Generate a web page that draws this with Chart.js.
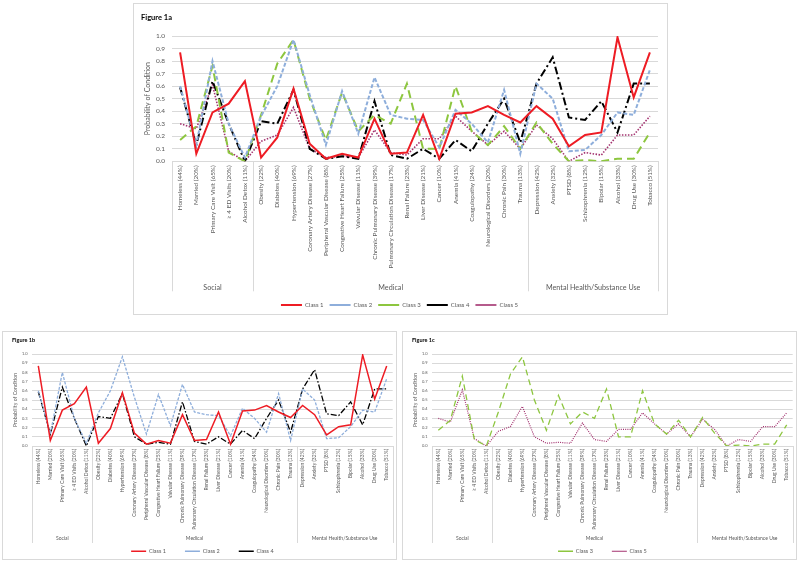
<!DOCTYPE html>
<html>
<head>
<meta charset="utf-8">
<script src="https://cdn.jsdelivr.net/npm/chart.js@4.4.0/dist/chart.umd.min.js"></script>
<style>
    html, body { margin: 0; padding: 0; background: #fff; overflow: hidden; }
    body { position: relative; width: 800px; height: 563px; }
    .frame { position: absolute; border: 1px solid #d9d9d9; box-sizing: border-box; }
    canvas { position: absolute; }
</style>
</head>
<body>
<div class="frame" style="left:133px; top:3px; width:535px; height:312px;"></div>
<div class="frame" style="left:2px; top:331px; width:395px; height:229px;"></div>
<div class="frame" style="left:402px; top:331px; width:395px; height:229px;"></div>
<canvas id="fig1a" width="535" height="315" style="left:133px; top:3px;"></canvas>
<canvas id="fig1b" width="395" height="233" style="left:2px; top:331px;"></canvas>
<canvas id="fig1c" width="395" height="233" style="left:402px; top:331px;"></canvas>
<script>
// Categories and the three axis groups
const categories = [
    'Homeless (44%)', 'Married (20%)', 'Primary Care Visit (65%)', '\u2265 4 ED Visits (20%)', 'Alcohol Detox (11%)',
    'Obesity (22%)', 'Diabetes (40%)', 'Hypertension (69%)', 'Coronary Artery Disease (27%)',
    'Peripheral Vascular Disease (8%)', 'Congestive Heart Failure (25%)', 'Valvular Disease (11%)',
    'Chronic Pulmonary Disease (39%)', 'Pulmonary Circulation Disease (17%)', 'Renal Failure (23%)',
    'Liver Disease (21%)', 'Cancer (10%)', 'Anemia (41%)', 'Coagulopathy (24%)', 'Neurological Disorders (20%)',
    'Chronic Pain (30%)', 'Trauma (13%)',
    'Depression (42%)', 'Anxiety (32%)', 'PTSD (8%)', 'Schizophrenia (12%)', 'Bipolar (15%)',
    'Alcohol (33%)', 'Drug Use (30%)', 'Tobacco (51%)',
];
const groupNames = ['Social', 'Medical', 'Mental Health/Substance Use'];
const groupSizes = [5, 17, 8];

// Probability of condition per latent class
const class1 = [0.87, 0.06, 0.39, 0.46, 0.64, 0.03, 0.19, 0.58, 0.14, 0.02, 0.06, 0.03, 0.34, 0.06, 0.07,
    0.37, 0.02, 0.38, 0.39, 0.44, 0.37, 0.31, 0.44, 0.34, 0.12, 0.21, 0.23, 0.99, 0.51, 0.87];
const class2 = [0.60, 0.13, 0.80, 0.30, 0.03, 0.36, 0.60, 0.97, 0.53, 0.13, 0.56, 0.22, 0.67, 0.37, 0.34,
    0.33, 0.11, 0.41, 0.30, 0.15, 0.57, 0.06, 0.62, 0.50, 0.08, 0.09, 0.21, 0.39, 0.37, 0.73];
const class3 = [0.17, 0.28, 0.76, 0.07, 0.00, 0.37, 0.78, 0.97, 0.50, 0.17, 0.55, 0.24, 0.37, 0.30, 0.62,
    0.10, 0.10, 0.60, 0.24, 0.13, 0.28, 0.10, 0.31, 0.14, 0.00, 0.01, 0.00, 0.02, 0.02, 0.23];
const class4 = [0.59, 0.13, 0.64, 0.30, 0.00, 0.32, 0.30, 0.57, 0.10, 0.02, 0.04, 0.02, 0.48, 0.05, 0.02,
    0.10, 0.02, 0.17, 0.08, 0.30, 0.50, 0.15, 0.62, 0.83, 0.35, 0.33, 0.48, 0.23, 0.62, 0.62];
const class5 = [0.30, 0.26, 0.61, 0.08, 0.00, 0.16, 0.21, 0.43, 0.10, 0.03, 0.04, 0.03, 0.25, 0.07, 0.05,
    0.18, 0.18, 0.36, 0.24, 0.13, 0.24, 0.10, 0.29, 0.18, 0.00, 0.07, 0.05, 0.21, 0.21, 0.36];

const classLabels = ['Class 1', 'Class 2', 'Class 3', 'Class 4', 'Class 5'];
const classValues = [class1, class2, class3, class4, class5];
const yTicks = [0, 0.1, 0.2, 0.3, 0.4, 0.5, 0.6, 0.7, 0.8, 0.9, 1.0];

// Line looks (Excel style)
const lineColors = ['#ee1c24', '#8eaedb', '#8dc63f', '#000000', '#a3326f'];
const FONT = "Lato, 'Open Sans', sans-serif";
const TEXT = '#595959';
const GRID = '#d9d9d9';

Chart.defaults.font.family = FONT;

// Draws the second-level category axis: group separators + group names
const groupAxisPlugin = {
    id: 'groupAxis',
    afterDraw(chart, args, opts) {
        const x = chart.scales.x;
        const ctx = chart.ctx;
        const half = (x.getPixelForValue(1) - x.getPixelForValue(0)) / 2;
        const top = chart.chartArea.bottom;
        ctx.save();
        ctx.strokeStyle = GRID;
        ctx.lineWidth = 1;
        ctx.fillStyle = TEXT;
        ctx.font = `${opts.fontSize}px ${FONT}`;
        ctx.textAlign = 'center';
        ctx.textBaseline = 'middle';
        let start = 0;
        groupSizes.forEach((n, g) => {
            const left = x.getPixelForValue(start) - half;
            const right = x.getPixelForValue(start + n - 1) + half;
            const edges = g === groupSizes.length - 1 ? [left, right] : [left];
            edges.forEach(px => {
                const sx = Math.round(px) + 0.5;
                ctx.beginPath();
                ctx.moveTo(sx, top);
                ctx.lineTo(sx, top + opts.lineDepth);
                ctx.stroke();
            });
            ctx.fillText(groupNames[g], (left + right) / 2, top + opts.labelOffset);
            start += n;
        });
        ctx.restore();
    },
};

function buildFigure(canvasId, titleText, classIds, g) {
    const datasets = classIds.map(i => ({
        label: classLabels[i],
        data: classValues[i],
        borderColor: lineColors[i],
        backgroundColor: 'transparent',
        borderWidth: g.widths[i],
        borderDash: g.dashes[i],
        pointRadius: 0,
        tension: 0,
        fill: false,
    }));

    return new Chart(document.getElementById(canvasId), {
        type: 'line',
        data: { labels: categories, datasets },
        plugins: [groupAxisPlugin],
        options: {
            responsive: false,
            animation: false,
            layout: { padding: g.padding },
            plugins: {
                title: {
                    display: true,
                    text: titleText,
                    align: 'start',
                    color: '#000',
                    font: { size: g.titleSize, weight: 'bold' },
                    padding: g.titlePadding,
                },
                legend: {
                    display: true,
                    position: 'bottom',
                    labels: {
                        color: TEXT,
                        font: { size: g.legendSize },
                        usePointStyle: true,
                        pointStyle: 'line',
                        pointStyleWidth: g.legendBox,
                        padding: g.legendPadding,
                    },
                },
                tooltip: { enabled: false },
                groupAxis: { fontSize: g.groupSize, labelOffset: g.groupOffset, lineDepth: g.groupDepth },
            },
            scales: {
                x: {
                    offset: true,
                    grid: { display: false, drawTicks: false },
                    border: { display: true, color: GRID },
                    ticks: {
                        autoSkip: false,
                        maxRotation: 90,
                        minRotation: 90,
                        padding: g.xTickPadding,
                        color: TEXT,
                        font: { size: g.xTickSize },
                    },
                    afterFit: s => { s.height = g.xHeight; },
                },
                y: {
                    min: 0,
                    max: 1,
                    afterBuildTicks: s => { s.ticks = yTicks.map(v => ({ value: v })); },
                    grid: { color: GRID, drawTicks: false },
                    border: { display: false },
                    ticks: {
                        padding: g.yTickPadding,
                        color: TEXT,
                        font: { size: g.yTickSize },
                        callback: v => v.toFixed(1),
                    },
                    title: {
                        display: true,
                        text: 'Probability of Condition',
                        color: TEXT,
                        font: { size: g.yTitleSize },
                        padding: { top: g.yTitlePad, bottom: 0 },
                    },
                    afterFit: s => { s.width = g.yWidth; },
                },
            },
        },
    });
}

// Figure 1a: all five classes
buildFigure('fig1a', 'Figure 1a', [0, 1, 2, 3, 4], {
    widths: [2, 2, 2, 2, 1.6],
    dashes: [[], [4, 2], [8, 5], [8, 3, 2, 3], [1.5, 1.5]],
    padding: { left: 8, right: 10, top: 6, bottom: 0 },
    titleSize: 7.5, titlePadding: { top: 4, bottom: 14 },
    legendSize: 6, legendBox: 21, legendPadding: 6,
    groupSize: 7.2, groupOffset: 126.5, groupDepth: 130,
    xTickSize: 6.4, xTickPadding: 4, xHeight: 134.7,
    yTickSize: 6.5, yTickPadding: 7, yTitleSize: 7, yTitlePad: 3, yWidth: 31,
});

// Figure 1b: classes 1, 2, 4
buildFigure('fig1b', 'Figure 1b', [0, 1, 3], {
    widths: [1.5, 1.3, 1.3, 1.3, 1.2],
    dashes: [[], [3, 1.5], [6, 4], [6, 2, 1.5, 2], [1, 1.2]],
    padding: { left: 10, right: 4.3, top: 4, bottom: 0 },
    titleSize: 5.5, titlePadding: { top: 1.7, bottom: 10.7 },
    legendSize: 5.5, legendBox: 15, legendPadding: 19,
    groupSize: 5, groupOffset: 92.5, groupDepth: 97,
    xTickSize: 5, xTickPadding: 3, xHeight: 83.5,
    yTickSize: 4, yTickPadding: 4.8, yTitleSize: 5.2, yTitlePad: 0, yWidth: 20.3,
});

// Figure 1c: classes 3, 5
buildFigure('fig1c', 'Figure 1c', [2, 4], {
    widths: [1.5, 1.3, 1.3, 1.3, 1.2],
    dashes: [[], [3, 1.5], [6, 4], [6, 2, 1.5, 2], [1, 1.2]],
    padding: { left: 10, right: 4.3, top: 4, bottom: 0 },
    titleSize: 5.5, titlePadding: { top: 1.7, bottom: 10.7 },
    legendSize: 5.5, legendBox: 15, legendPadding: 19,
    groupSize: 5, groupOffset: 92.5, groupDepth: 97,
    xTickSize: 5, xTickPadding: 3, xHeight: 83.5,
    yTickSize: 4, yTickPadding: 4.8, yTitleSize: 5.2, yTitlePad: 0, yWidth: 20.3,
});
</script>
</body>
</html>
